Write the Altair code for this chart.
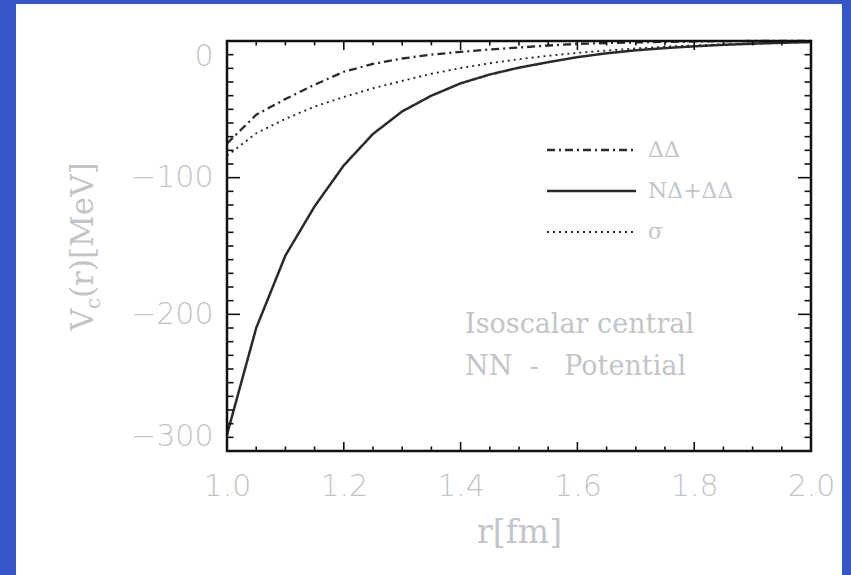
import altair as alt
import pandas as pd

# ---------------- data ----------------
r_vals = [1.00, 1.05, 1.10, 1.15, 1.20, 1.25, 1.30, 1.35, 1.40, 1.45, 1.50,
          1.55, 1.60, 1.65, 1.70, 1.75, 1.80, 1.85, 1.90, 1.95, 2.00]
v_dd = [-75, -54, -42.5, -32, -22.5, -16.8, -12.8, -10.0, -8.0, -6.2, -4.8,
        -3.3, -2.1, -1.5, -1.0, -0.6, -0.3, -0.1, 0.0, 0.0, 0.0]
v_ndd = [-288, -210, -157, -121, -91, -68, -51.5, -40, -31, -24.5, -19.5,
         -15.5, -11.8, -9.0, -6.8, -5.2, -3.9, -2.8, -2.0, -1.3, -0.8]
v_sigma = [-84, -67.5, -57, -48, -41, -34.6, -29.2, -24, -19.8, -16.3, -13.3,
           -10.8, -8.7, -7.0, -5.5, -4.2, -3.2, -2.4, -1.7, -1.1, -0.6]
series_names = ["ΔΔ", "NΔ+ΔΔ", "σ"]
series_values = [v_dd, v_ndd, v_sigma]

x_major = [1.0, 1.2, 1.4, 1.6, 1.8, 2.0]
x_minor = [1.05, 1.10, 1.15, 1.25, 1.30, 1.35, 1.45, 1.50, 1.55,
           1.65, 1.70, 1.75, 1.85, 1.90, 1.95]
y_major = [0, -100, -200, -300]
y_minor = [-10, -20, -30, -40, -50, -60, -70, -80, -90,
           -110, -120, -130, -140, -150, -160, -170, -180, -190,
           -210, -220, -230, -240, -250, -260, -270, -280, -290]
note_lines = ["Isoscalar central", "NN\u00a0\u00a0-\u00a0\u00a0\u00a0Potential"]
x_title = "r[fm]"
y_title_parts = ["V", "c", "(r)[MeV]"]

# ---------------- styling ----------------
W, H = 584, 410
BLUE = "#3456c8"
GRAY = "#c2c5c8"
INK = "#2a2a2a"
SERIF = "DejaVu Serif"
SANS = "DejaVu Sans"
dashes = {"ΔΔ": [8, 4, 2, 4], "NΔ+ΔΔ": [1, 0], "σ": [2, 4]}
widths = {"ΔΔ": 2.3, "NΔ+ΔΔ": 2.5, "σ": 1.9}

xs = alt.Scale(domain=[1.0, 2.0], nice=False, zero=False, padding=0)
ys = alt.Scale(domain=[-300, 0], nice=False, zero=False, padding=0)

one = alt.Data(values=[{"k": 1}])

# white panel behind everything
panel = alt.Chart(one).mark_rect(color="white").encode(
    x=alt.value(16 - 227), x2=alt.value(842 - 227),
    y=alt.value(4 - 41), y2=alt.value(600 - 41),
)

# curves
curve_layers = []
for name, vals in zip(series_names, series_values):
    df = pd.DataFrame({"r": r_vals, "V": vals, "series": name})
    curve_layers.append(
        alt.Chart(df).mark_line(color=INK, strokeWidth=widths[name],
                                strokeDash=dashes[name]).encode(
            x=alt.X("r:Q", scale=xs),
            y=alt.Y("V:Q", scale=ys),
        )
    )

# axes (labels + titles only, ticks drawn inward below)
axes_layer = alt.Chart(pd.DataFrame({"r": [1.0], "V": [0.0]})).mark_line(opacity=0).encode(
    x=alt.X("r:Q", scale=xs, axis=alt.Axis(
        values=x_major, format=".1f", ticks=False, tickSize=0, domain=False, grid=False,
        labelFont=SANS, labelFontSize=30, labelColor=GRAY, labelFontWeight=300,
        labelPadding=20, labelFlush=False, title=x_title, titleFont=SERIF, titleFontSize=33,
        titleFontWeight="normal", titleColor=GRAY, titlePadding=15, zindex=2)),
    y=alt.Y("V:Q", scale=ys, axis=alt.Axis(
        values=y_major, format="d", ticks=False, tickSize=0, domain=False, grid=False,
        labelFont=SANS, labelFontSize=30, labelColor=GRAY, labelFontWeight=300,
        labelPadding=14, labelFlush=True, title=None, zindex=2)),
)

# inward ticks
tick_layers = []
for vals, ln in [(x_major, 9), (x_minor, 4.5)]:
    d = pd.DataFrame({"r": vals})
    tick_layers.append(alt.Chart(d).mark_rule(color="#111", strokeWidth=1.6).encode(
        x=alt.X("r:Q", scale=xs), y=alt.value(H), y2=alt.value(H - ln)))
    tick_layers.append(alt.Chart(d).mark_rule(color="#111", strokeWidth=1.6).encode(
        x=alt.X("r:Q", scale=xs), y=alt.value(0), y2=alt.value(ln)))
for vals, ln in [(y_major, 13), (y_minor, 6.5)]:
    d = pd.DataFrame({"V": vals})
    tick_layers.append(alt.Chart(d).mark_rule(color="#111", strokeWidth=1.6).encode(
        y=alt.Y("V:Q", scale=ys), x=alt.value(0), x2=alt.value(ln)))
    tick_layers.append(alt.Chart(d).mark_rule(color="#111", strokeWidth=1.6).encode(
        y=alt.Y("V:Q", scale=ys), x=alt.value(W), x2=alt.value(W - ln)))

frame = alt.Chart(one).mark_rect(fill=None, stroke="#111", strokeWidth=2.5).encode(
    x=alt.value(0), x2=alt.value(W), y=alt.value(0), y2=alt.value(H))

# legend (drawn by hand, inside the frame)
legend_layers = []
for i, name in enumerate(series_names):
    yy = 109 + 41 * i
    legend_layers.append(alt.Chart(one).mark_rule(
        color=INK, strokeWidth=widths[name], strokeDash=dashes[name]).encode(
        x=alt.value(320), x2=alt.value(409), y=alt.value(yy)))
    legend_layers.append(alt.Chart(one).mark_text(
        text=name, font=SERIF, fontSize=22, color=GRAY, align="left",
        baseline="middle").encode(x=alt.value(421), y=alt.value(yy)))

# annotation
note_layers = []
for i, line in enumerate(note_lines):
    note_layers.append(alt.Chart(one).mark_text(
        text=line, font=SERIF, fontSize=27, color=GRAY, align="left",
        baseline="middle").encode(x=alt.value(238), y=alt.value(284 + 42 * i)))

# y title with subscript
yt_x, yt_y = -134, 290
ytitle = [
    alt.Chart(one).mark_text(text=y_title_parts[0], font=SERIF, fontSize=31, color=GRAY,
                             angle=270, align="left", baseline="alphabetic").encode(
        x=alt.value(yt_x), y=alt.value(yt_y)),
    alt.Chart(one).mark_text(text=y_title_parts[1], font=SERIF, fontSize=20, color=GRAY,
                             angle=270, align="left", baseline="alphabetic", dx=22, dy=7).encode(
        x=alt.value(yt_x), y=alt.value(yt_y)),
    alt.Chart(one).mark_text(text=y_title_parts[2], font=SERIF, fontSize=31, color=GRAY,
                             angle=270, align="left", baseline="alphabetic", dx=33).encode(
        x=alt.value(yt_x), y=alt.value(yt_y)),
]

chart = alt.layer(
    panel, axes_layer, *curve_layers, *tick_layers, frame,
    *legend_layers, *note_layers, *ytitle,
).properties(
    width=W, height=H,
    autosize=alt.AutoSizeParams(type="none"),
    padding={"left": 227, "top": 41, "right": 40, "bottom": 124},
    background=BLUE,
).configure_view(stroke=None)

chart.save("out.html", embed_options={"renderer": "svg", "actions": False})
